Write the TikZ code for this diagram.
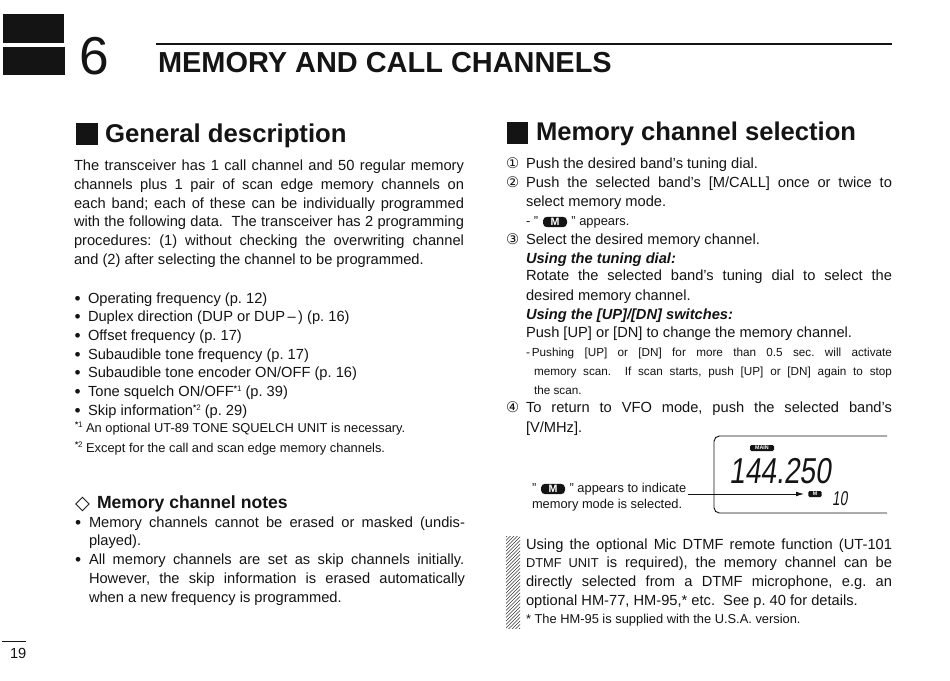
\documentclass[tikz,border=0pt]{standalone}
\usetikzlibrary{arrows.meta}
\usepackage{fontspec}
\setmainfont{Liberation Sans}
\newfontfamily\symfont{DejaVu Sans}
\definecolor{ink}{HTML}{141414}
\newcommand{\bodyfs}{\fontsize{11}{12}\selectfont}
\newcommand{\smallfs}{\fontsize{9.65}{11}\selectfont}
\newcommand{\tinyfs}{\fontsize{8.8}{10}\selectfont}
\newcommand{\tl}[4]{\node[txt] (#1) at (#2,#3) {#4};}
\newcommand{\jl}[5]{\node[txt] (#1) at (#2,#3) {\makebox[#4pt][s]{#5}};}
\newcommand{\cnum}[1]{{\symfont\fontsize{11}{12}\selectfont #1}}
\newcommand{\sstar}[1]{\raisebox{3.2pt}{\fontsize{6}{7}\selectfont\textbf{*}#1}}
\begin{document}
\frenchspacing
\begin{tikzpicture}[x=0.75pt,y=-0.75pt,
  txt/.style={anchor=base west,inner sep=0pt,outer sep=0pt,text=ink,font=\bodyfs},
  smalltxt/.style={txt,font=\smallfs},
  tinytxt/.style={txt,font=\tinyfs},
  section/.style={txt,font=\fontsize{19.3}{22}\selectfont\bfseries},
  sqmark/.style={fill=ink,draw=none},
  dotmark/.style={txt,font=\fontsize{13}{14}\selectfont,yshift=-1pt},
  micon/.style={fill=ink,text=white,rounded corners=3pt,inner sep=0pt,font=\fontsize{8}{9}\selectfont\bfseries,minimum width=18pt,minimum height=7.8pt},
  minimicon/.style={fill=ink,text=white,rounded corners=1pt,inner sep=0pt,font=\fontsize{4}{5}\selectfont\bfseries,minimum width=10pt,minimum height=4.5pt},
  lcd/.style={anchor=base west,inner sep=0pt,text=ink,transform shape},
  conn/.style={draw=ink,line width=0.7pt}]
\useasboundingbox (0,0) rectangle (950,681);
\fill[white] (0,0) rectangle (950,681);
% chapter tabs
\fill[ink] (3,14) rectangle (64,43);
\fill[ink] (3,47) rectangle (65,75);
\node[txt,font=\fontsize{40}{44}\selectfont] (chapnum) at (79,75) {6};
\draw[ink,line width=1.5pt] (156,44) -- (892,44);
\node[txt,font=\fontsize{21.7}{26}\selectfont\bfseries] (chaptitle) at (158,73) {MEMORY AND CALL CHANNELS};
% section headings
\fill[sqmark] (76,123) rectangle (98,145);
\node[section] (genhead) at (105,143) {General description};
\fill[sqmark] (507,122) rectangle (528,144);
\node[section,font=\fontsize{19.2}{22}\selectfont\bfseries] (memhead) at (536,141) {Memory channel selection};
% left column
\jl{a1}{74}{171}{292.5}{The transceiver has 1 call channel and 50 regular memory}
\jl{a2}{74}{190}{292.5}{channels plus 1 pair of scan edge memory channels on}
\jl{a3}{74}{208.5}{292.5}{each band; each of these can be individually programmed}
\jl{a4}{74}{227}{292.5}{with the following data. \ The transceiver has 2 programming}
\jl{a5}{74}{246}{292.5}{procedures: (1) without checking the overwriting channel}
\tl{a6}{74}{264}{and (2) after selecting the channel to be programmed.}
\foreach \nm/\yy in {b1/303,b2/321,b3/340,b4/359,b5/377,b6/396,b7/415}{
  \node[dotmark] (dot\nm) at (74.5,\yy) {•};}
\tl{b1}{88}{303}{Operating frequency (p. 12)}
\tl{b2}{88}{321}{Duplex direction (DUP or DUP\,--\,) (p. 16)}
\tl{b3}{88}{340}{Offset frequency (p. 17)}
\tl{b4}{88}{359}{Subaudible tone frequency (p. 17)}
\tl{b5}{88}{377}{Subaudible tone encoder ON/OFF (p. 16)}
\tl{b6}{88}{396}{Tone squelch ON/OFF\sstar{1} (p. 39)}
\tl{b7}{88}{415}{Skip information\sstar{2} (p. 29)}
\node[smalltxt] (f1) at (75,432) {\sstar{1} An optional UT-89 TONE SQUELCH UNIT is necessary.};
\node[smalltxt] (f2) at (75,452) {\sstar{2} Except for the call and scan edge memory channels.};
\node[txt,font=\symfont\fontsize{14.5}{16}\selectfont] (diam) at (75,509) {◇};
\node[txt,font=\fontsize{13.2}{15}\selectfont\bfseries] (noteshead) at (97,508) {Memory channel notes};
\node[dotmark] (dotn1) at (75,527) {•};
\node[dotmark] (dotn2) at (75,564) {•};
\jl{n1}{89}{527}{282}{Memory channels cannot be erased or masked (undis-}
\tl{n2}{89}{545}{played).}
\jl{n3}{89}{564}{281.5}{All memory channels are set as skip channels initially.}
\jl{n4}{89}{583}{282}{However, the skip information is erased automatically}
\tl{n5}{89}{602}{when a new frequency is programmed.}
% right column
\node[txt] (c1) at (506,169) {\cnum{①}};
\tl{r1}{526}{169}{Push the desired band's tuning dial.}
\node[txt] (c2) at (506,188) {\cnum{②}};
\jl{r2}{526}{188}{274.5}{Push the selected band's [M/CALL] once or twice to}
\tl{r3}{526}{207}{select memory mode.}
\node[smalltxt] (r4) at (526,226) {- "\hspace{25pt}" appears.};
\node[micon] (iconr) at (555,222) {M};
\node[txt] (c3) at (506,244) {\cnum{③}};
\tl{r5}{526}{244}{Select the desired memory channel.}
\node[txt,font=\bodyfs\bfseries\itshape] (r6) at (526,263) {Using the tuning dial:};
\jl{r7}{526}{281}{274.5}{Rotate the selected band's tuning dial to select the}
\tl{r8}{526}{300}{desired memory channel.}
\node[txt,font=\bodyfs\bfseries\itshape] (r9) at (526,319) {Using the [UP]/[DN] switches:};
\tl{r10}{526}{337}{Push [UP] or [DN] to change the memory channel.}
\node[tinytxt] (r11) at (526,356) {\makebox[274.5pt][s]{-\,Pushing [UP] or [DN] for more than 0.5 sec. will activate}};
\node[tinytxt] (r12) at (534,375) {\makebox[268.5pt][s]{memory scan. \ If scan starts, push [UP] or [DN] again to stop}};
\node[tinytxt] (r13) at (534,394) {the scan.};
\node[txt] (c4) at (506,412) {\cnum{④}};
\jl{r14}{526}{412}{274.5}{To return to VFO mode, push the selected band's}
\tl{r15}{526}{432}{[V/MHz].}
% display
\draw[conn,rounded corners=4pt] (887,436) -- (714,436) -- (714,513) -- (887,513);
\node[minimicon,minimum width=18pt] (mainicon) at (762,448) {MAIN};
\node[lcd,font=\fontsize{27}{30}\selectfont,xslant=0.14,xscale=0.78] (freq) at (729,483) {144.250};
\node[minimicon] (miniM) at (815,494) {M};
\node[lcd,font=\fontsize{15}{16}\selectfont,xslant=0.14,xscale=0.68] (chan) at (832,505) {10};
\node[smalltxt] (d1) at (532,492) {"\hspace{25pt}" appears to indicate};
\node[micon] (icond) at (553,489) {M};
\node[smalltxt] (d2) at (532,508) {memory mode is selected.};
\coordinate (arrowstart) at (688,494);
\draw[conn,-{Latex[length=6pt,width=3.5pt]}] (arrowstart) -- ([xshift=-3pt]miniM.west);
% hatched strip
\begin{scope}
\clip (506,536) rectangle (520,628);
\foreach \k in {0,...,34}{\draw[ink!85,line width=0.5pt] (500,{536+\k*3.5}) -- (526,{536+\k*3.5-26});}
\end{scope}
\jl{m1}{526}{549}{274.5}{Using the optional Mic DTMF remote function (UT-101}
\jl{m2}{526}{567}{274.5}{{\smallfs DTMF UNIT} is required), the memory channel can be}
\jl{m3}{526}{586}{274.5}{directly selected from a DTMF microphone, e.g. an}
\tl{m4}{526}{605}{optional HM-77, HM-95,* etc. \ See p. 40 for details.}
\node[smalltxt] (m5) at (526,623) {* The HM-95 is supplied with the U.S.A. version.};
% page number
\draw[ink,line width=0.7pt] (2,641) -- (26,641);
\node[txt] (pagenum) at (10,658) {19};
\end{tikzpicture}
\end{document}
